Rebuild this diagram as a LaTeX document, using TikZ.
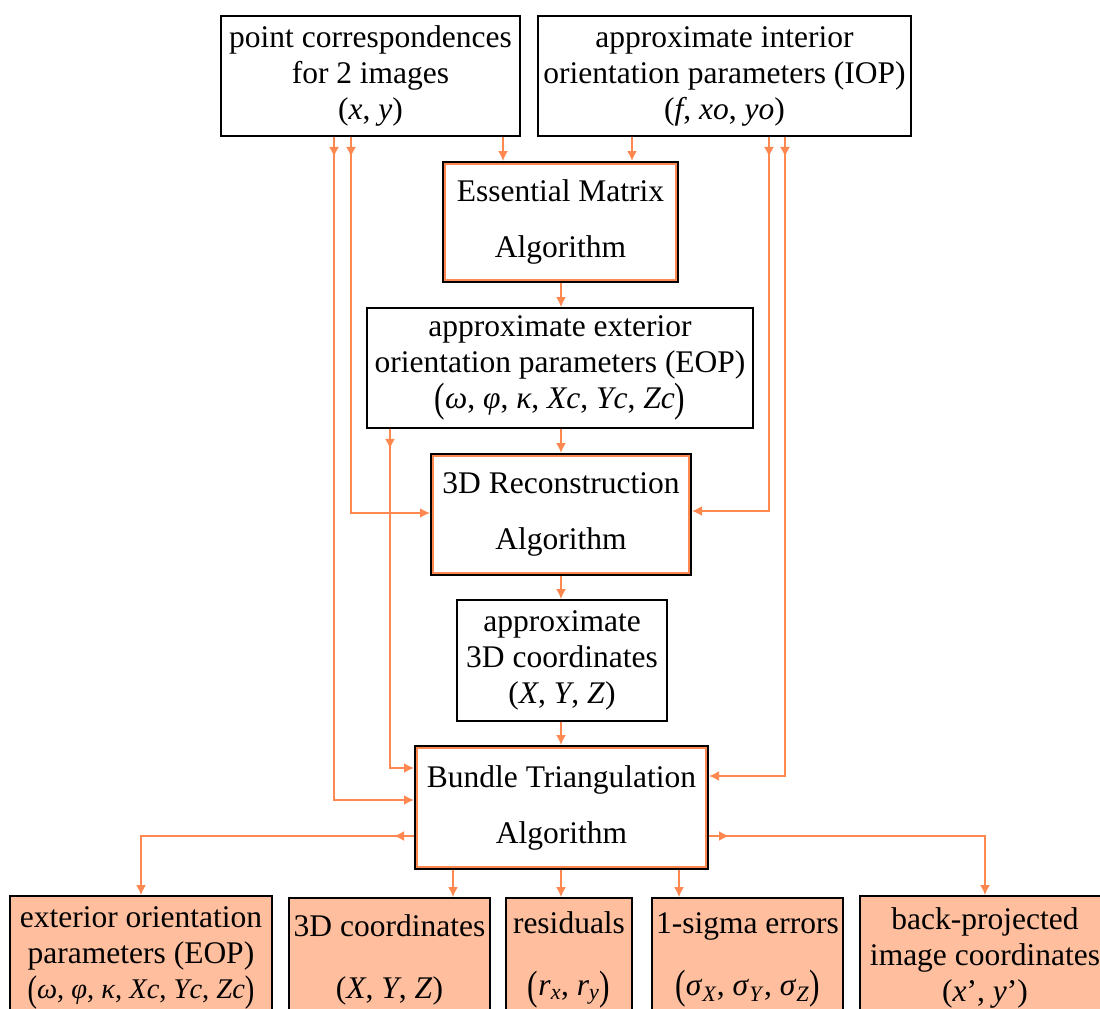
\documentclass[tikz,border=0pt]{standalone}
\usepackage{fontspec}
\usepackage{graphicx}
\setmainfont{Liberation Serif}
\usetikzlibrary{arrows.meta,decorations.markings,calc}
\definecolor{lineor}{RGB}{255,136,80}
\definecolor{peach}{RGB}{255,190,158}
\newcommand\tallpar[1]{\raisebox{-0.12em}{\scalebox{1}[1.3]{#1}}}
\newcommand\ital[1]{\textit{#1}}
\begin{document}
\begin{tikzpicture}[x=1pt,y=-1pt,
  font=\fontsize{31.5}{36}\selectfont,
  box/.style={draw=black, line width=1.8pt, align=center, inner sep=0pt},
  algo/.style={draw=black, line width=2pt, align=center, inner sep=0pt},
  outbox/.style={box, fill=peach},
  conn/.style={draw=lineor, line width=1.8pt, -{Latex[length=10pt,width=10pt]}},
  srcmark/.style={postaction={decorate,decoration={markings,
     mark=at position 20pt with {\arrow{Latex[length=10pt,width=10pt]}}}}},
]
\useasboundingbox[fill=white] (0,0) rectangle (1100,1009);

% top boxes
\node[box, minimum width=299pt, minimum height=120pt] (pc) at (370.5,76)
  {point correspondences\\for 2 images\\(\ital{x}, \ital{y})};
\node[box, minimum width=373pt, minimum height=120pt] (iop) at (724.5,76)
  {approximate interior\\orientation parameters (IOP)\\(\ital{f}, \ital{xo}, \ital{yo})};

% algorithm and intermediate boxes
\node[algo, minimum width=235pt, minimum height=120pt] (ess) at (560.5,222)
  {Essential Matrix\\[20pt]Algorithm};
\node[box, minimum width=386pt, minimum height=120pt] (eop) at (560,368)
  {approximate exterior\\orientation parameters (EOP)\\\tallpar{(}\ital{ω}, \ital{φ}, \ital{κ}, \ital{Xc}, \ital{Yc}, \ital{Zc}\tallpar{)}};
\node[algo, minimum width=260pt, minimum height=121pt] (rec) at (561,514.5)
  {3D Reconstruction\\[20pt]Algorithm};
\node[box, minimum width=210pt, minimum height=121pt] (ap3) at (562,660.5)
  {approximate\\3D coordinates\\(\ital{X}, \ital{Y}, \ital{Z})};
\node[algo, minimum width=293pt, minimum height=123pt] (bun) at (561.5,807.5)
  {Bundle Triangulation\\[20pt]Algorithm};

\foreach \n in {ess,rec,bun}
  \draw[lineor, line width=1.8pt] ([shift={(3,3)}]\n.north west) rectangle ([shift={(-3,-3)}]\n.south east);

% output boxes
\node[outbox, minimum width=262pt, minimum height=124pt] (o1) at (141,958)
  {exterior orientation\\parameters (EOP)\\[-1pt]{\fontsize{28.5}{36}\selectfont\tallpar{(}\ital{ω}, \ital{φ}, \ital{κ}, \ital{Xc}, \ital{Yc}, \ital{Zc}\tallpar{)}}};
\node[outbox, minimum width=201pt, minimum height=124pt] (o2) at (389.5,960)
  {3D coordinates\\[26pt](\ital{X}, \ital{Y}, \ital{Z})};
\node[outbox, minimum width=126pt, minimum height=124pt] (o3) at (569,960)
  {residuals\\[26pt]\tallpar{(}\ital{r}\textsubscript{\ital{x}}, \ital{r}\textsubscript{\ital{y}}\tallpar{)}};
\node[outbox, minimum width=191pt, minimum height=124pt] (o4) at (747.5,960)
  {1-sigma errors\\[26pt]\tallpar{(}\ital{σ}\textsubscript{\ital{X}}, \ital{σ}\textsubscript{\ital{Y}}, \ital{σ}\textsubscript{\ital{Z}}\tallpar{)}};
\node[outbox, minimum width=250pt, minimum height=124pt] (o5) at (985,958)
  {back-projected\\image coordinates\\(\ital{x}’, \ital{y}’)};

% connectors: top boxes to Essential Matrix
\draw[conn] (503,0 |- pc.south) -- (503,0 |- ess.north);
\draw[conn] (632,0 |- iop.south) -- (632,0 |- ess.north);
% main chain
\draw[conn] (561,0 |- ess.south) -- (561,0 |- eop.north);
\draw[conn] (561,0 |- eop.south) -- (561,0 |- rec.north);
\draw[conn] (561,0 |- rec.south) -- (561,0 |- ap3.north);
\draw[conn] (561,0 |- ap3.south) -- (561,0 |- bun.north);
% side feeds
\draw[conn, srcmark] (351,0 |- pc.south) |- (rec.west |- 0,513);
\draw[conn, srcmark] (334,0 |- pc.south) |- (bun.west |- 0,800);
\draw[conn, srcmark] (769,0 |- iop.south) |- (rec.east |- 0,511);
\draw[conn, srcmark] (785,0 |- iop.south) |- (bun.east |- 0,776);
\draw[conn, srcmark] (390,0 |- eop.south) |- (bun.west |- 0,768);
% outputs
\draw[conn, srcmark] (bun.west |- 0,836) -| (141,0 |- o1.north);
\draw[conn, srcmark] (bun.east |- 0,836) -| (985,0 |- o5.north);
\draw[conn] (453,0 |- bun.south) -- (453,0 |- o2.north);
\draw[conn] (561,0 |- bun.south) -- (561,0 |- o3.north);
\draw[conn] (679,0 |- bun.south) -- (679,0 |- o4.north);
\end{tikzpicture}
\end{document}
